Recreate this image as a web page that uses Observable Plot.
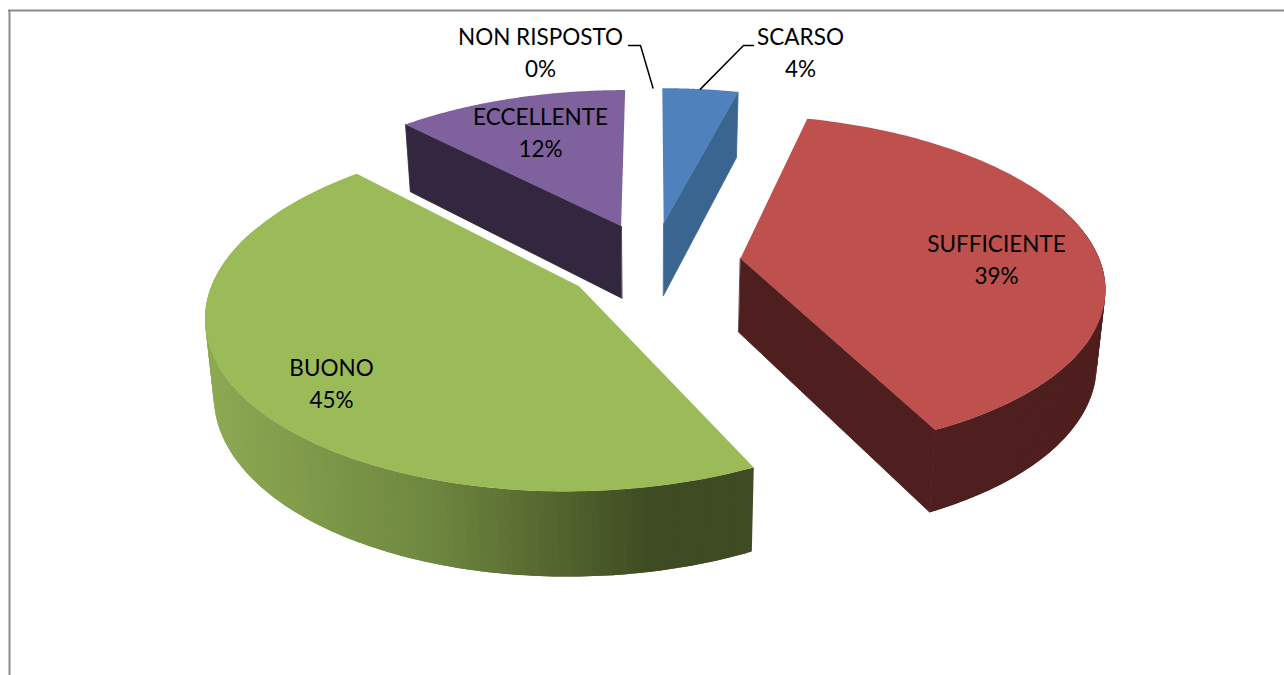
<!DOCTYPE html>
<html>
<head>
<meta charset="utf-8">
<style>html,body{margin:0;padding:0;background:#fff}svg{display:block}</style>
<script src="https://cdn.jsdelivr.net/npm/d3@7"></script>
<script src="https://cdn.jsdelivr.net/npm/@observablehq/plot@0.6"></script>
</head>
<body>
<div id="chart"></div>
<script>
// DATA (slice sizes; labels show them rounded)
const categories = ["SCARSO", "SUFFICIENTE", "BUONO", "ECCELLENTE", "NON RISPOSTO"];
const percents = [4, 38.8, 45, 12.2, 0];

// STYLE
const topColors = ["#4F81BD", "#BE504D", "#9BBB59", "#7F619D", "#7F7F7F"];
const sideColors = ["#3A6591", "#4E1F1E", "#3F4B22", "#32273F", "#7F7F7F"];
const buonoWall = d3.scaleLinear().domain([205, 430, 650]).range(["#8DA953", "#6E873F", "#3F4B22"]).clamp(true);

// LAYOUT: camera of the 3-D pie, and label anchors
const cam = {cx: 652.5, cy: 262, a: 360, b: 166.4, D: 6.66, explode: 0.245};
const floor = {cy: 336, a: 353, b: 174.5};
const labelAt = {
  "SCARSO": [800, 50], "SUFFICIENTE": [996, 257], "BUONO": [331, 381],
  "ECCELLENTE": [540, 130], "NON RISPOSTO": [540, 50]
};
const leaderKnee = {"SCARSO": [[753, 45], [743, 45]], "NON RISPOSTO": [[628, 45], [640, 45]]};

const rad = d => d * 2 * Math.PI / 100;
function plane(u, v, bottom) {
  const w = 1 / (1 - v / cam.D);
  const p = bottom ? floor : cam;
  return [cam.cx + p.a * u * w, p.cy + p.b * v * w];
}
// slices, clockwise from the top
let acc = 0;
const slices = categories.map((name, i) => {
  const start = rad(acc); acc += percents[i]; const end = rad(acc);
  const mid = (start + end) / 2;
  return {name, i, start, end, mid, ou: cam.explode * Math.sin(mid), ov: -cam.explode * Math.cos(mid)};
});
const rim = (s, t, bottom) => plane(s.ou + Math.sin(t), s.ov - Math.cos(t), bottom);
const apex = (s, bottom) => plane(s.ou, s.ov, bottom);

const cuts = [], walls = [], tops = [];
let id = 0;
function face(layer, pts, fill) {
  id++;
  pts.forEach(p => layer.push({id, x: p[0], y: p[1], fill}));
}
for (const s of slices) {
  if (percents[s.i] === 0) continue;
  const side = sideColors[s.i];
  // cut faces, only where they turn towards the viewer
  if (-Math.cos(s.start - Math.PI / 2) > 0.01)
    face(cuts, [apex(s), rim(s, s.start), rim(s, s.start, true), apex(s, true)], side);
  if (-Math.cos(s.end + Math.PI / 2) > 0.01)
    face(cuts, [apex(s), rim(s, s.end), rim(s, s.end, true), apex(s, true)], side);
  // outer wall in overlapping bands, shaded on the large slice; the far side of the rim is hidden
  const n = Math.max(8, Math.round(percents[s.i] * 4)), step = (s.end - s.start) / n;
  for (let k = 0; k < n; k++) {
    const t0 = s.start + step * k, t1 = t0 + step, t2 = Math.min(s.end, t0 + 2 * step);
    if (Math.cos(t0) > 0.3 && Math.cos(t2) > 0.3) continue;
    const a = rim(s, t0), b = rim(s, t1);
    const fill = s.name === "BUONO" ? d3.rgb(buonoWall((a[0] + b[0]) / 2)).formatHex() : side;
    face(walls, [a, rim(s, t1), rim(s, t2), rim(s, t2, true), rim(s, t1, true), rim(s, t0, true)], fill);
  }
  // top face
  const pts = [apex(s)];
  for (let k = 0; k <= 120; k++) pts.push(rim(s, s.start + (s.end - s.start) * k / 120));
  face(tops, pts, topColors[s.i]);
}

// leader lines run from the label to the slice's rim midpoint
const leaders = [];
for (const name of Object.keys(leaderKnee)) {
  const s = slices.find(d => d.name === name);
  [...leaderKnee[name], rim(s, s.mid)].forEach(p => leaders.push({name, x: p[0], y: p[1]}));
}

const labels = slices.map(s => ({
  text: `${s.name}\n${Math.round(percents[s.i])}%`, x: labelAt[s.name][0], y: labelAt[s.name][1]
}));

const polygon = (layer, extra) => Plot.line(layer, {x: "x", y: "y", z: "id", fill: "fill", curve: "linear-closed", ...extra});

const chart = Plot.plot({
  width: 1284, height: 675,
  margin: 0,
  x: {type: "linear", domain: [0, 1284], range: [0, 1284], axis: null},
  y: {type: "linear", domain: [0, 675], range: [0, 675], axis: null},
  color: {type: "identity"},
  style: {background: "#fff"},
  marks: [
    Plot.ruleX([9], {y1: 10, y2: 675, stroke: "#8c8c8c", strokeWidth: 2}),
    Plot.ruleY([10], {x1: 8, x2: 1284, stroke: "#8c8c8c", strokeWidth: 2}),
    polygon(cuts, {stroke: "fill", strokeWidth: 0.8}),
    polygon(walls, {stroke: "none"}),
    polygon(tops, {stroke: "none"}),
    Plot.line(leaders, {x: "x", y: "y", z: "name", stroke: "#000", strokeWidth: 1.5}),
    Plot.text(labels, {x: "x", y: "y", text: "text", fill: "#000", fontSize: 22.5, lineHeight: 1.45, fontFamily: "Lato", textAnchor: "middle", lineAnchor: "middle"})
  ]
});
document.getElementById("chart").appendChild(chart);
</script>
</body>
</html>
